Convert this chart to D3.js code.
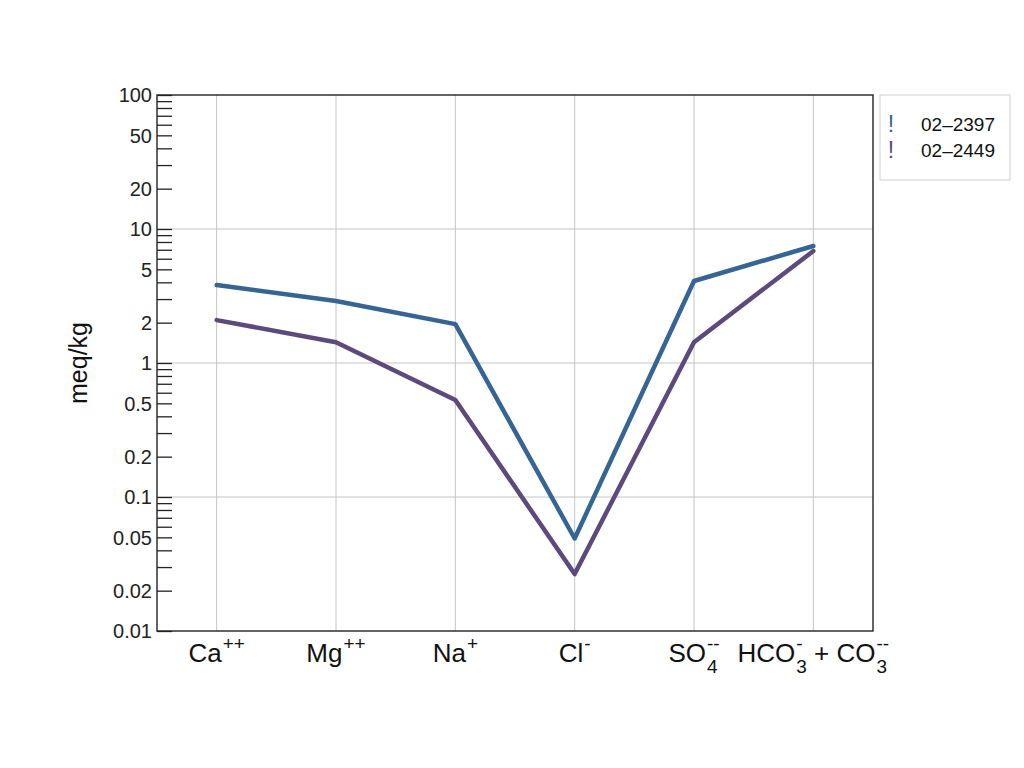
<!DOCTYPE html>
<html>
<head>
<meta charset="utf-8">
<script src="https://cdn.jsdelivr.net/npm/d3@7"></script>
<style>
  html, body { margin: 0; padding: 0; background: #fff; }
  svg { display: block; font-family: "Liberation Sans", Arial, sans-serif; }
</style>
</head>
<body>
<svg id="chart" width="1024" height="768"></svg>
<script>
// ---- data ----
const categories = ["Ca", "Mg", "Na", "Cl", "SO4", "HCO3+CO3"];
// label pieces: [text, kind] kind: n normal, sup, ss (sub+sup stacked: text=sub, extra=sup)
const categoryLabels = [
  [["Ca", "n"], ["++", "sup"]],
  [["Mg", "n"], ["++", "sup"]],
  [["Na", "n"], ["+", "sup"]],
  [["Cl", "n"], ["-", "sup"]],
  [["SO", "n"], ["4", "ss", "--"]],
  [["HCO", "n"], ["3", "ss", "-"], [" + CO", "n"], ["3", "ss", "--"]]
];
const seriesNames = ["02\u20132397", "02\u20132449"];
const seriesColors = ["#366594", "#5b4a7b"];
const series1 = [3.82, 2.90, 1.95, 0.049, 4.09, 7.47];
const series2 = [2.09, 1.43, 0.53, 0.0266, 1.43, 6.85];
const yTickValues = [100, 50, 20, 10, 5, 2, 1, 0.5, 0.2, 0.1, 0.05, 0.02, 0.01];
const yTickLabels = ["100", "50", "20", "10", "5", "2", "1", "0.5", "0.2", "0.1", "0.05", "0.02", "0.01"];
const yTitle = "meq/kg";

// ---- layout ----
const svg = d3.select("#chart");
const L = 157, R = 873, T = 95, B = 631;

const x = d3.scalePoint().domain(categories).range([L, R]).padding(0.5);
const y = d3.scaleLog().domain([0.01, 100]).range([B, T]);

// minor ticks 1..9 of each decade
const minorTicks = [];
for (let e = -2; e < 2; e++) {
  for (let k = 1; k <= 9; k++) minorTicks.push(k * Math.pow(10, e));
}
minorTicks.push(100);

// grid
const grid = svg.append("g").attr("stroke", "#c4c4c4").attr("stroke-width", 1);
grid.selectAll("line.v").data(categories).join("line")
  .attr("x1", d => x(d)).attr("x2", d => x(d))
  .attr("y1", T).attr("y2", B);
grid.selectAll("line.h").data([10, 1, 0.1]).join("line")
  .attr("x1", L).attr("x2", R)
  .attr("y1", d => y(d)).attr("y2", d => y(d));

// y axis ticks (inside, pointing right)
const yAxis = d3.axisRight(y).tickValues(minorTicks).tickSize(15).tickFormat("");
const ya = svg.append("g").attr("transform", `translate(${L},0)`).call(yAxis);
ya.select(".domain").remove();
ya.selectAll(".tick line").attr("stroke", "#222").attr("stroke-width", 1.3);

// y tick labels
svg.append("g").selectAll("text").data(yTickValues).join("text")
  .attr("x", L - 5).attr("y", d => y(d)).attr("dy", "0.36em")
  .attr("text-anchor", "end").attr("font-size", 20).attr("fill", "#222")
  .text((d, i) => yTickLabels[i]);

// frame
svg.append("rect").attr("x", L).attr("y", T).attr("width", R - L).attr("height", B - T)
  .attr("fill", "none").attr("stroke", "#222").attr("stroke-width", 1.4);

// lines
const line = d3.line().x((d, i) => x(categories[i])).y(d => y(d));
[series1, series2].forEach((s, i) => {
  svg.append("path").datum(s).attr("d", line)
    .attr("fill", "none").attr("stroke", seriesColors[i])
    .attr("stroke-width", 4.5).attr("stroke-linejoin", "round").attr("stroke-linecap", "round");
});

// x labels
const baseY = 662, fsMain = 26, fsScript = 19;
categoryLabels.forEach((parts, i) => {
  const g = svg.append("g");
  let cx = 0;
  parts.forEach(p => {
    if (p[1] === "n") {
      const t = g.append("text").attr("x", cx).attr("y", baseY).attr("font-size", fsMain)
        .attr("fill", "#111").style("white-space", "pre").text(p[0]);
      cx += t.node().getComputedTextLength();
    } else if (p[1] === "sup") {
      const t = g.append("text").attr("x", cx + 1).attr("y", baseY - 12).attr("font-size", fsScript)
        .attr("fill", "#111").text(p[0]);
      cx += t.node().getComputedTextLength() + 1;
    } else {
      const a = g.append("text").attr("x", cx + 1).attr("y", baseY + 11).attr("font-size", fsScript)
        .attr("fill", "#111").text(p[0]);
      const b = g.append("text").attr("x", cx + 1).attr("y", baseY - 12).attr("font-size", fsScript)
        .attr("fill", "#111").text(p[2]);
      cx += Math.max(a.node().getComputedTextLength(), b.node().getComputedTextLength()) + 1;
    }
  });
  g.attr("transform", `translate(${x(categories[i]) - cx / 2},0)`);
});

// y title
svg.append("text").attr("transform", `translate(87,${(T + B) / 2}) rotate(-90)`)
  .attr("text-anchor", "middle").attr("font-size", 25).attr("fill", "#111").text(yTitle);

// legend
const lg = svg.append("g");
lg.append("rect").attr("x", 880).attr("y", 95).attr("width", 130).attr("height", 85)
  .attr("fill", "#fff").attr("stroke", "#d0d0d0").attr("stroke-width", 1);
seriesNames.forEach((n, i) => {
  const yy = 131 + i * 26;
  lg.append("text").attr("x", 891).attr("y", yy + 1).attr("text-anchor", "middle")
    .attr("font-size", 23).attr("fill", seriesColors[i]).text("!");
  lg.append("text").attr("x", 921).attr("y", yy).attr("font-size", 19)
    .attr("fill", "#111").text(n);
});
</script>
</body>
</html>
